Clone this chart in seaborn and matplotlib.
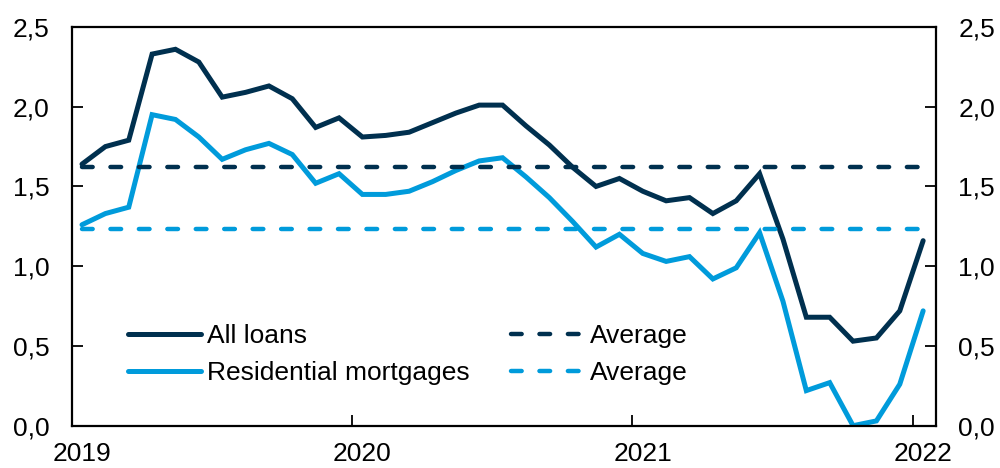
import numpy as np
import pandas as pd
import matplotlib
matplotlib.use("Agg")
import matplotlib.pyplot as plt
import seaborn as sns
from matplotlib.lines import Line2D

# ---- data (monthly, Jan 2019 - Jan 2022) ----
all_loans = [1.64, 1.75, 1.79, 2.33, 2.36, 2.28, 2.06, 2.09, 2.13, 2.05,
             1.87, 1.93, 1.81, 1.82, 1.84, 1.90, 1.96, 2.01, 2.01, 1.88,
             1.76, 1.62, 1.50, 1.55, 1.47, 1.41, 1.43, 1.33, 1.41, 1.58,
             1.17, 0.68, 0.68, 0.53, 0.55, 0.72, 1.16]
residential = [1.26, 1.33, 1.37, 1.95, 1.92, 1.81, 1.67, 1.73, 1.77, 1.70,
               1.52, 1.58, 1.45, 1.45, 1.47, 1.53, 1.60, 1.66, 1.68, 1.56,
               1.43, 1.28, 1.12, 1.20, 1.08, 1.03, 1.06, 0.92, 0.99, 1.21,
               0.78, 0.22, 0.27, 0.00, 0.03, 0.26, 0.72]
avg_all = 1.625
avg_res = 1.232
year_labels = ["2019", "2020", "2021", "2022"]
ytick_vals = [0.0, 0.5, 1.0, 1.5, 2.0, 2.5]
ytick_labels = ["0,0", "0,5", "1,0", "1,5", "2,0", "2,5"]
series_names = ["All loans", "Residential mortgages"]

DARK = "#00304F"
LIGHT = "#009BDB"
FS = 19

n = len(all_loans)
month_pos = np.arange(n) + 0.45  # mid-month positions (months since Jan 2019)

df = pd.DataFrame({
    "x": np.concatenate([month_pos, month_pos]),
    "value": all_loans + residential,
    "series": [series_names[0]] * n + [series_names[1]] * n,
})

sns.set_theme(style="white")
plt.rcParams["font.family"] = ["Liberation Sans", "DejaVu Sans"]
plt.rcParams["text.color"] = "black"

fig = plt.figure(figsize=(10, 4.68), dpi=100)
ax = fig.add_axes([0.0715, 0.0904, 0.8645, 0.852])

sns.lineplot(data=df, x="x", y="value", hue="series",
             palette={series_names[0]: DARK, series_names[1]: LIGHT},
             linewidth=3.6, ax=ax, legend=False, solid_joinstyle="miter")

dash = (2.4, 4.0)
ax.plot([month_pos[0], month_pos[-1]], [avg_all, avg_all], color=DARK,
        lw=3.2, dashes=dash, dash_capstyle="round")
ax.plot([month_pos[0], month_pos[-1]], [avg_res, avg_res], color=LIGHT,
        lw=3.2, dashes=dash, dash_capstyle="round")

ax.set_xlim(0, 37)
ax.set_ylim(0, 2.5)
ax.set_xlabel("")
ax.set_ylabel("")

# major ticks at year boundaries (no labels), labels on minor ticks mid-January
ax.set_xticks([0, 12, 24, 36])
ax.set_xticklabels([])
ax.set_xticks([0.45, 12.45, 24.45, 36.45], minor=True)
ax.set_xticklabels(year_labels, minor=True)
ax.tick_params(axis="x", which="major", direction="in", length=8, width=1.3,
               color="black", bottom=True, top=False)
ax.tick_params(axis="x", which="minor", length=0, pad=12, labelsize=FS,
               labelcolor="black")

ax.set_yticks(ytick_vals)
ax.set_yticklabels(ytick_labels)
ax.tick_params(axis="y", direction="in", length=8, width=1.3, color="black",
               left=True, right=True, labelleft=True, labelright=True,
               pad=16, labelsize=FS, labelcolor="black")

for s in ax.spines.values():
    s.set_visible(True)
    s.set_color("black")
    s.set_linewidth(1.6)
ax.grid(False)

handles = [
    Line2D([], [], color=DARK, lw=3.6, solid_capstyle="round"),
    Line2D([], [], color=LIGHT, lw=3.6, solid_capstyle="round"),
    Line2D([], [], color=DARK, lw=3.2, dashes=dash, dash_capstyle="round"),
    Line2D([], [], color=LIGHT, lw=3.2, dashes=dash, dash_capstyle="round"),
]
labels = [series_names[0], series_names[1], "Average", "Average"]
leg = fig.legend(handles, labels, ncol=2, frameon=False, loc="upper left",
                 bbox_to_anchor=(0.128, (468 - 324) / 468), fontsize=FS,
                 handlelength=2.75, handletextpad=0.23, columnspacing=1.6,
                 labelspacing=0.5, borderpad=0, borderaxespad=0)
for t in leg.get_texts():
    t.set_color("black")

fig.savefig("out.png", dpi=100)
